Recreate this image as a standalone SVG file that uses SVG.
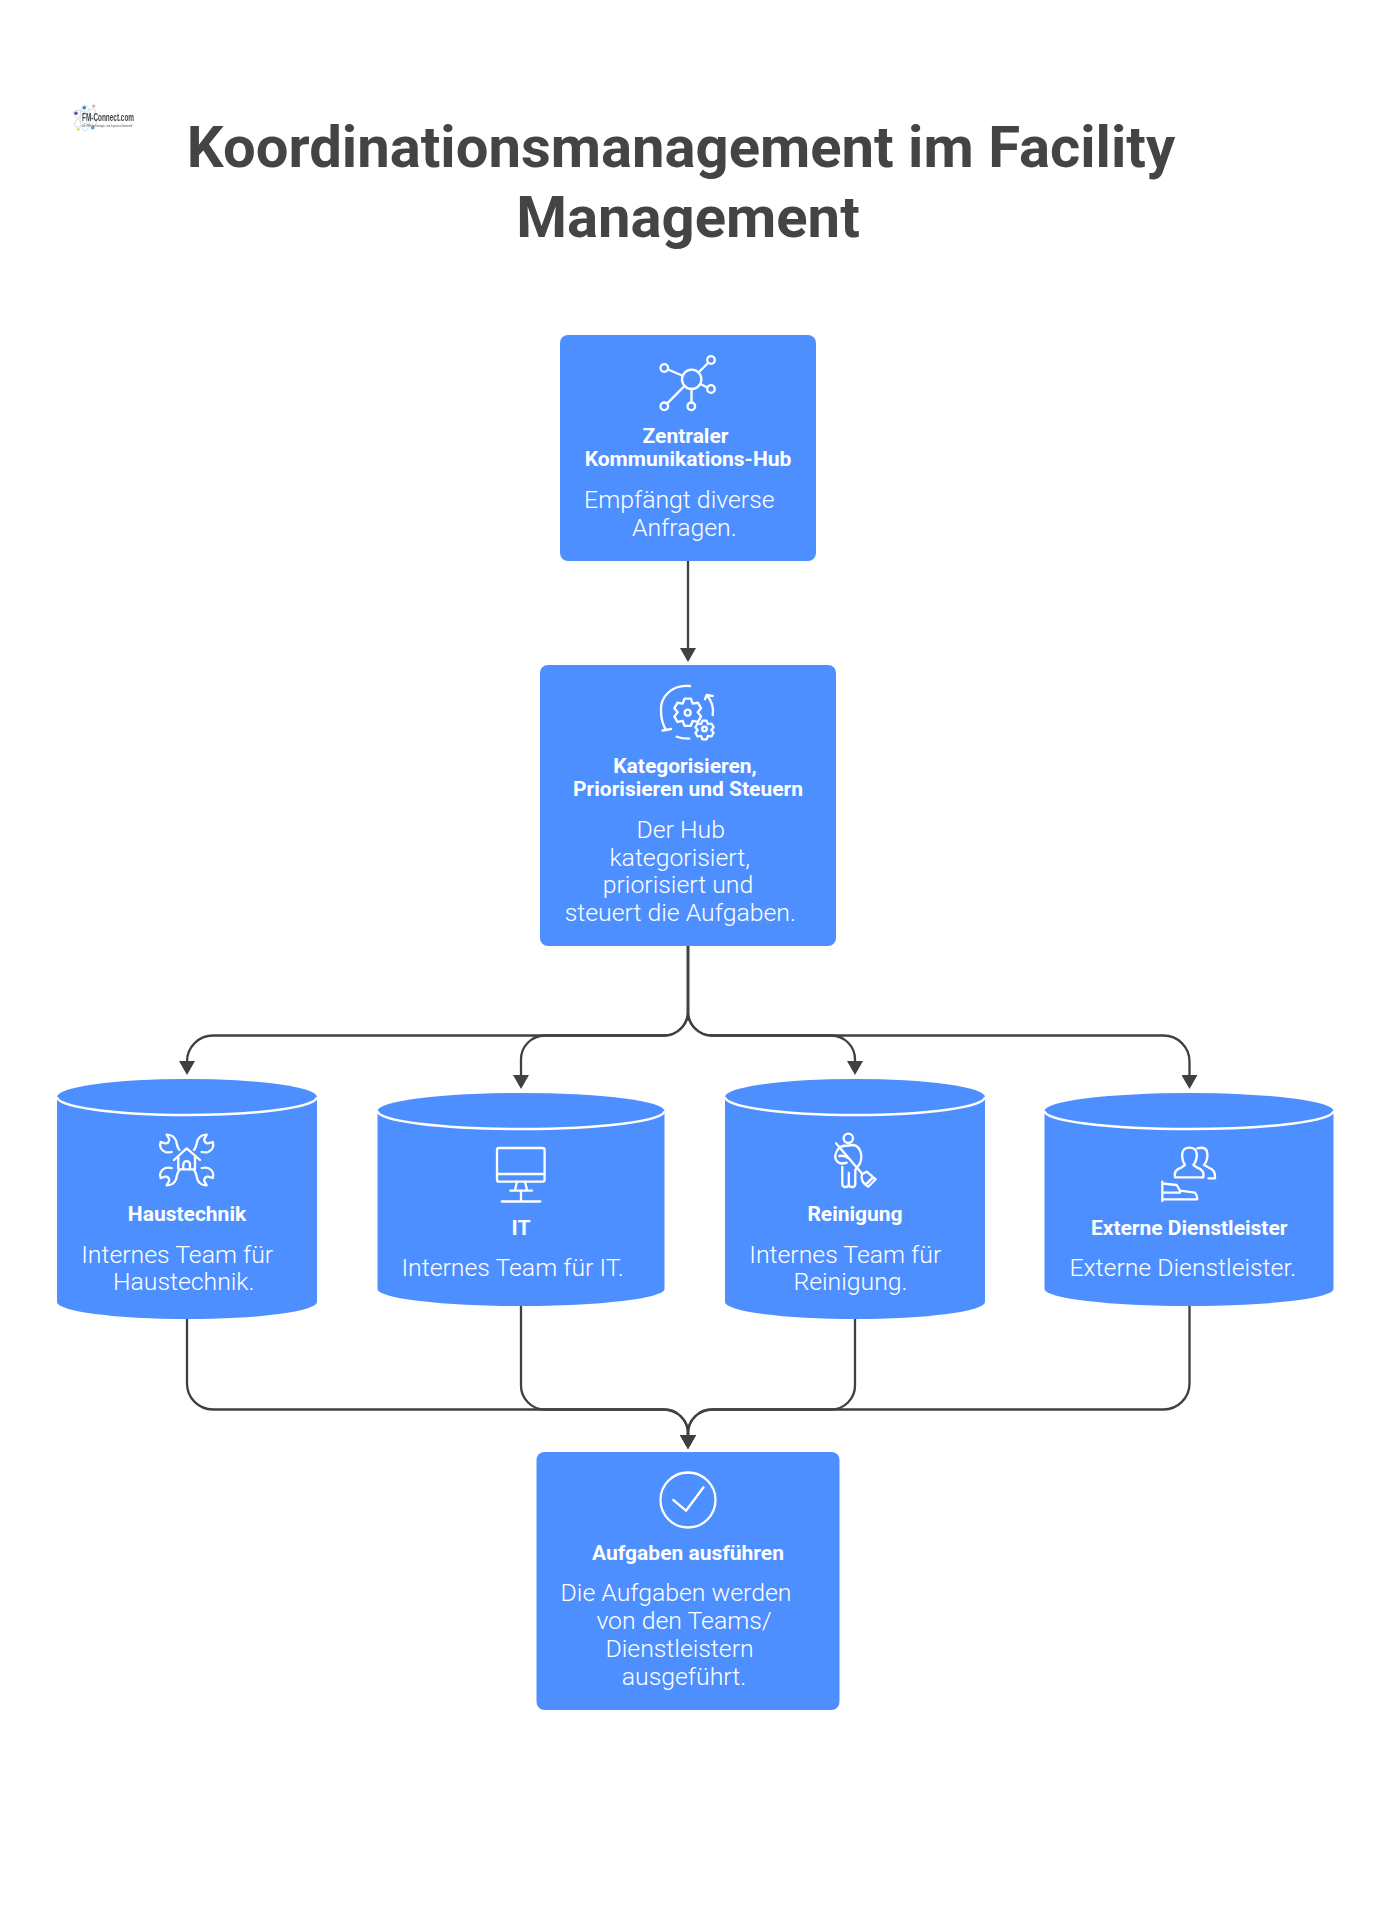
<svg xmlns="http://www.w3.org/2000/svg" xmlns:xlink="http://www.w3.org/1999/xlink" width="1392" height="1920" viewBox="0 0 1392 1920">
<style>
text{font-family:Roboto,"Liberation Sans",sans-serif}
.main{font-size:58px;font-weight:700;fill:#444;text-anchor:middle}
.t{font-size:21px;font-weight:700;fill:#fff;text-anchor:middle}
.b{font-size:24.8px;font-weight:300;fill:#fff;text-anchor:middle}
.n{fill:#4e8fff}
.lid{fill:none;stroke:#fff;stroke-width:2.4}
.i{fill:none;stroke:#fff;stroke-width:2.3;stroke-linecap:round;stroke-linejoin:round}
.c{fill:none;stroke:#404040;stroke-width:2.3}
</style>
<defs>
<marker id="arrow" markerUnits="userSpaceOnUse" markerWidth="14" markerHeight="16" viewBox="0 0 14 16" refX="4" refY="8" orient="auto"><path d="M0,0L14,8L0,16Z" fill="#404040"/></marker>
<path id="gear" d="M-3.15,-13.64L3.15,-13.64L5,-8.66L10.24,-9.55L13.39,-4.09L10,0L13.39,4.09L10.24,9.55L5,8.66L3.15,13.64L-3.15,13.64L-5,8.66L-10.24,9.55L-13.39,4.09L-10,0L-13.39,-4.09L-10.24,-9.55L-5,-8.66Z"/>
<path id="wrench" d="M-7.3,-10C-10,-13 -9.5,-16 -10.7,-19.3C-12,-23 -16,-25.3 -20,-25.3L-17.5,-21C-17.5,-18 -19,-16.5 -21.3,-16.7L-26,-18C-27.5,-14 -26,-10 -21.3,-8C-19,-7.2 -17,-7.5 -15,-8"/>
<filter id="soft" x="-10%" y="-10%" width="120%" height="120%"><feGaussianBlur stdDeviation="0.35"/></filter>
</defs>
<rect width="1392" height="1920" fill="#fff"/>

<g id="logo" filter="url(#soft)">
<g fill="none" stroke="#c9d8e6" stroke-width="0.8">
<ellipse cx="85" cy="118" rx="13" ry="5" transform="rotate(30 85 118)"/>
<ellipse cx="85" cy="118" rx="13" ry="5" transform="rotate(-40 85 118)"/>
<ellipse cx="85" cy="118" rx="13" ry="5" transform="rotate(90 85 118)"/>
</g>
<circle cx="76" cy="113.3" r="1.8" fill="#6a4fa3"/>
<circle cx="84.3" cy="107.7" r="1.8" fill="#3f7fc4"/>
<circle cx="93.7" cy="106" r="1.6" fill="#e8a8a0"/>
<circle cx="78.3" cy="129.3" r="1.5" fill="#f0dc60"/>
<circle cx="92.7" cy="127.7" r="1.8" fill="#4aa0e0"/>
<text x="82" y="121" textLength="52" lengthAdjust="spacingAndGlyphs" style="font-family:'Liberation Sans',sans-serif;font-size:11px;font-weight:700;fill:#444">FM-Connect.com</text>
<text x="82" y="126.5" textLength="51" lengthAdjust="spacingAndGlyphs" style="font-family:'Liberation Sans',sans-serif;font-size:3.6px;fill:#555">Das FM-Technologie- und Ingenieur-Netzwerk!</text>
</g>

<g id="title">
<text class="main" x="681" y="167">Koordinationsmanagement im Facility</text>
<text class="main" x="688" y="237">Management</text>
</g>

<g id="connectors">
<path class="c" marker-end="url(#arrow)" d="M688,561V652"/>
<path class="c" marker-end="url(#arrow)" d="M688,946V1011.5A24,24 0 0 1 664,1035.5H213A26,26 0 0 0 187,1061.5V1065"/>
<path class="c" marker-end="url(#arrow)" d="M688,946V1011.5A24,24 0 0 1 664,1035.5H545A24,24 0 0 0 521,1059.5V1079"/>
<path class="c" marker-end="url(#arrow)" d="M688,946V1011.5A24,24 0 0 0 712,1035.5H831A24,24 0 0 1 855,1059.5V1065"/>
<path class="c" marker-end="url(#arrow)" d="M688,946V1011.5A24,24 0 0 0 712,1035.5H1163.5A26,26 0 0 1 1189.5,1061.5V1079"/>
<path class="c" marker-end="url(#arrow)" d="M187,1319V1383.5A26,26 0 0 0 213,1409.5H664A24,24 0 0 1 688,1433.5V1439"/>
<path class="c" marker-end="url(#arrow)" d="M521,1306V1385.5A24,24 0 0 0 545,1409.5H664A24,24 0 0 1 688,1433.5V1439"/>
<path class="c" marker-end="url(#arrow)" d="M855,1319V1385.5A24,24 0 0 1 831,1409.5H712A24,24 0 0 0 688,1433.5V1439"/>
<path class="c" marker-end="url(#arrow)" d="M1189.5,1306V1383.5A26,26 0 0 1 1163.5,1409.5H712A24,24 0 0 0 688,1433.5V1439"/>
</g>

<g id="hub">
<rect class="n" x="560" y="335" width="256" height="226" rx="8"/>
<g class="i">
<circle cx="691.7" cy="379.3" r="9.7"/>
<circle cx="664.3" cy="368" r="3.8"/><circle cx="711" cy="360" r="3.8"/><circle cx="711" cy="389" r="3.8"/><circle cx="664.3" cy="406.3" r="3.8"/><circle cx="691.3" cy="406.3" r="3.8"/>
<path d="M668,369.5L682.6,375.7M708.3,362.7L698.5,372.5M707.4,387.5L700.5,384M667,403.6L684.5,386M691.5,389V402.5"/>
</g>
<text class="t" x="685.5" y="443">Zentraler</text>
<text class="t" x="688" y="466">Kommunikations-Hub</text>
<text class="b" x="679.3" y="507.5">Empfängt diverse</text>
<text class="b" x="684.3" y="535.5">Anfragen.</text>
</g>

<g id="steuern">
<rect class="n" x="540" y="665" width="296" height="281" rx="8"/>
<g class="i">
<path d="M690,686C672,684 660,697 661,711C661,718 663,725 666,730M662.5,730.5L666,730L671,729"/>
<path d="M712.7,715C714,707 711,700 706.7,695M705,699.3L706.7,695L712.7,696"/>
<path d="M676.7,736.7C680,738 685,738.7 689.3,738.7"/>
<use xlink:href="#gear" href="#gear" transform="translate(687.7 712.3)"/>
<circle cx="687.7" cy="712.7" r="3"/>
<use xlink:href="#gear" href="#gear" transform="translate(704.5 730) scale(.68)" style="stroke-width:3.3"/>
<circle cx="704.5" cy="729" r="2.3"/>
</g>
<text class="t" x="685" y="773">Kategorisieren,</text>
<text class="t" x="688" y="796">Priorisieren und Steuern</text>
<text class="b" x="680.7" y="837.5">Der Hub</text>
<text class="b" x="679.7" y="865.5">kategorisiert,</text>
<text class="b" x="678" y="893">priorisiert und</text>
<text class="b" x="680.3" y="921">steuert die Aufgaben.</text>
</g>

<g id="haustechnik">
<path class="n" d="M57,1097A130,18 0 0 1 317,1097V1302A130,17 0 0 1 57,1302Z"/>
<path class="lid" d="M57,1097A130,18 0 0 0 317,1097"/>
<g class="i">
<path d="M174,1160L186.7,1148.3L200,1160M178.3,1156V1169.3H195V1156M183.3,1169V1164.5A3.3,3.3 0 0 1 190,1164.5V1169"/>
<g transform="translate(186.7 1160)">
<use xlink:href="#wrench" href="#wrench"/>
<use xlink:href="#wrench" href="#wrench" transform="scale(-1 1)"/>
<use xlink:href="#wrench" href="#wrench" transform="scale(1 -1)"/>
<use xlink:href="#wrench" href="#wrench" transform="scale(-1 -1)"/>
</g>
</g>
<text class="t" x="187" y="1221">Haustechnik</text>
<text class="b" x="177.2" y="1262.5">Internes Team für</text>
<text class="b" x="183.7" y="1290">Haustechnik.</text>
</g>

<g id="it">
<path class="n" d="M377.5,1111A143.5,18 0 0 1 664.5,1111V1289A143.5,17 0 0 1 377.5,1289Z"/>
<path class="lid" d="M377.5,1111A143.5,18 0 0 0 664.5,1111"/>
<g class="i">
<rect x="497" y="1148" width="47.6" height="33.7" rx="2"/>
<path d="M497.3,1174H544.3M517,1181.7L515,1190M525,1181.7L527,1190M510.3,1190.7H532M521,1190.7V1201.5M501.8,1201.5H540.3"/>
</g>
<text class="t" x="521" y="1235">IT</text>
<text class="b" x="512.6" y="1275.5">Internes Team für IT.</text>
</g>

<g id="reinigung">
<path class="n" d="M725,1097A130,18 0 0 1 985,1097V1302A130,17 0 0 1 725,1302Z"/>
<path class="lid" d="M725,1097A130,18 0 0 0 985,1097"/>
<g class="i">
<circle cx="848.3" cy="1138.3" r="4.7"/>
<path d="M836,1143.3L861.7,1173.3"/>
<path d="M843.3,1146C836.7,1147.3 833.3,1156.7 836.7,1160.7C838.3,1163.3 841.7,1164.3 846.7,1162.7"/>
<path d="M843.3,1146L853.3,1145C860,1146 863.3,1155 860,1163.3L856,1169"/>
<path d="M839.3,1156Q845,1155 848,1158"/>
<path d="M842.3,1167V1184Q842.3,1187 845.3,1187H845.8Q848.8,1187 848.8,1184V1173M848.8,1184Q848.8,1187 851.8,1187H852.3Q855.3,1187 855.3,1184V1170"/>
<path d="M862,1174L866.7,1171.7L875.7,1179.3L868.3,1186.7Q860,1182 862,1174ZM869,1181L872,1178.5M866,1184L869,1181.5"/>
</g>
<text class="t" x="855" y="1221">Reinigung</text>
<text class="b" x="845.3" y="1262.5">Internes Team für</text>
<text class="b" x="850.5" y="1290">Reinigung.</text>
</g>

<g id="extern">
<path class="n" d="M1044.5,1111A144.5,18 0 0 1 1333.5,1111V1289A144.5,17 0 0 1 1044.5,1289Z"/>
<path class="lid" d="M1044.5,1111A144.5,18 0 0 0 1333.5,1111"/>
<g class="i">
<path d="M1175,1177.3Q1173.3,1170 1181.7,1167.3L1185,1165Q1181.7,1160 1182.3,1153.3Q1183.3,1147.7 1189.3,1147.7Q1196,1147.7 1196.7,1153.3Q1197.3,1160 1193.3,1165L1196.7,1167.3Q1205,1170 1203.3,1177.3Z"/>
<path d="M1197.3,1148.3Q1206.7,1146 1207.3,1153.3Q1208,1160 1204,1165L1208.3,1167.3Q1216,1170 1215,1178.3H1208.3"/>
<path d="M1162.3,1181.7V1201M1162.3,1183.5L1176.7,1185L1180,1190.7L1195,1192.7Q1197.3,1195 1197.3,1199.3H1162.3M1162.3,1192.7H1180"/>
</g>
<text class="t" x="1189.2" y="1235">Externe Dienstleister</text>
<text class="b" x="1182.8" y="1275.5">Externe Dienstleister.</text>
</g>

<g id="ausfuehren">
<rect class="n" x="536.5" y="1452" width="303" height="258" rx="8"/>
<g class="i">
<circle cx="688" cy="1500" r="27.5"/>
<path d="M673.3,1500L686,1510.7L703.5,1487.3"/>
</g>
<text class="t" x="688" y="1560">Aufgaben ausführen</text>
<text class="b" x="676" y="1600.5">Die Aufgaben werden</text>
<text class="b" x="684" y="1628.5">von den Teams/</text>
<text class="b" x="679.6" y="1656.5">Dienstleistern</text>
<text class="b" x="684" y="1684.5">ausgeführt.</text>
</g>
</svg>
